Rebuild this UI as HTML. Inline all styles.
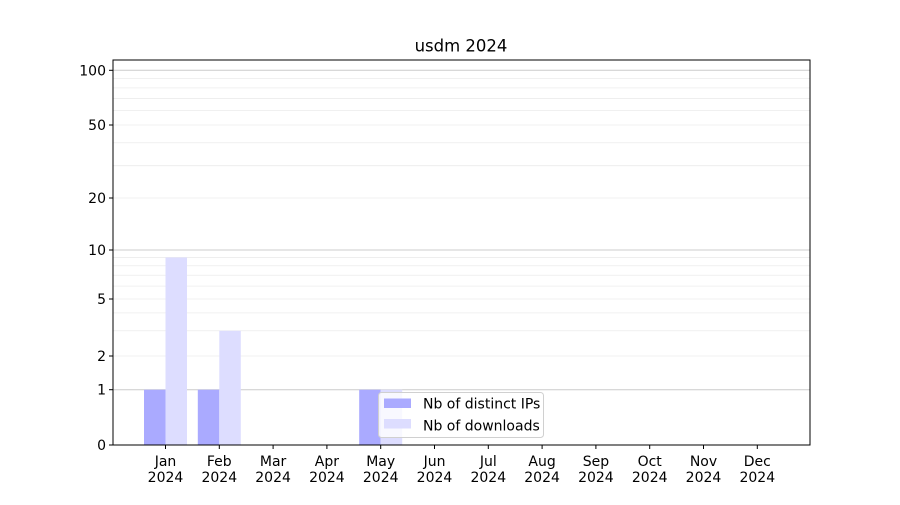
<!DOCTYPE html>
<html><head><meta charset="utf-8"><style>
body{margin:0;background:#fff}
svg text{font-family:"DejaVu Sans","Liberation Sans",sans-serif;font-size:14px;fill:#000}
</style></head><body>
<svg id="s" width="900" height="500" xmlns="http://www.w3.org/2000/svg"></svg>
<script>
var T=[[0,445],[1,389.7],[2,356],[5,299],[10,250],[20,198],[50,125],[100,70.3]];
function Y(v){for(var i=0;i<T.length-1;i++){var a=T[i],b=T[i+1];if(v<=b[0]){var t=a[0]==0?(v-a[0])/(b[0]-a[0]):Math.log(v/a[0])/Math.log(b[0]/a[0]);return a[1]+(b[1]-a[1])*t;}}
var a=T[6],b=T[7];return a[1]+(b[1]-a[1])*Math.log(v/a[0])/Math.log(b[0]/a[0]);}
var h='';var L=113,R=810,Tp=60,B=445;
var minors=[2,3,4,5,6,7,8,9,20,30,40,50,60,70,80,90];
minors.forEach(function(v){var y=Y(v);h+='<line x1="'+L+'" x2="'+R+'" y1="'+y+'" y2="'+y+'" stroke="#ececec" stroke-width="0.8"/>';});
[1,10,100].forEach(function(v){var y=Y(v);h+='<line x1="'+L+'" x2="'+R+'" y1="'+y+'" y2="'+y+'" stroke="#cccccc" stroke-width="1"/>';});
var ips=[1,1,0,0,1,0,0,0,0,0,0,0],dl=[9,3,0,0,1,0,0,0,0,0,0,0];
var m=['Jan','Feb','Mar','Apr','May','Jun','Jul','Aug','Sep','Oct','Nov','Dec'];
for(var i=0;i<12;i++){var c=165.5+i*53.8;
if(ips[i]){var y=Y(ips[i]);h+='<rect x="'+(c-21.5)+'" y="'+y+'" width="21.5" height="'+(B-y)+'" fill="#aaaaff"/>';}
if(dl[i]){var y=Y(dl[i]);h+='<rect x="'+c+'" y="'+y+'" width="21.5" height="'+(B-y)+'" fill="#ddddff"/>';}
h+='<line x1="'+c+'" x2="'+c+'" y1="'+B+'" y2="'+(B+4)+'" stroke="#000"/>';
h+='<text x="'+c+'" y="466" text-anchor="middle">'+m[i]+'</text><text x="'+c+'" y="482" text-anchor="middle">2024</text>';}
[0,1,2,5,10,20,50,100].forEach(function(v){var y=Y(v);h+='<line x1="'+(L-4)+'" x2="'+L+'" y1="'+y+'" y2="'+y+'" stroke="#000"/><text x="'+(L-7)+'" y="'+(y+5)+'" text-anchor="end">'+v+'</text>';});
h+='<rect x="'+L+'" y="'+Tp+'" width="'+(R-L)+'" height="'+(B-Tp)+'" fill="none" stroke="#000" stroke-width="1"/>';
h+='<rect x="378.5" y="392.5" width="165" height="45" rx="3" fill="#fff" fill-opacity="0.8" stroke="#d0d0d0"/>';
h+='<rect x="384" y="398.5" width="27" height="9.5" fill="#aaaaff"/><text x="423" y="408.5">Nb of distinct IPs</text>';
h+='<rect x="384" y="419" width="27" height="9.5" fill="#ddddff"/><text x="423" y="430.5">Nb of downloads</text>';
h+='<text x="461" y="51.5" text-anchor="middle" style="font-size:16.5px">usdm 2024</text>';
document.getElementById('s').innerHTML=h;
</script>
</body></html>
